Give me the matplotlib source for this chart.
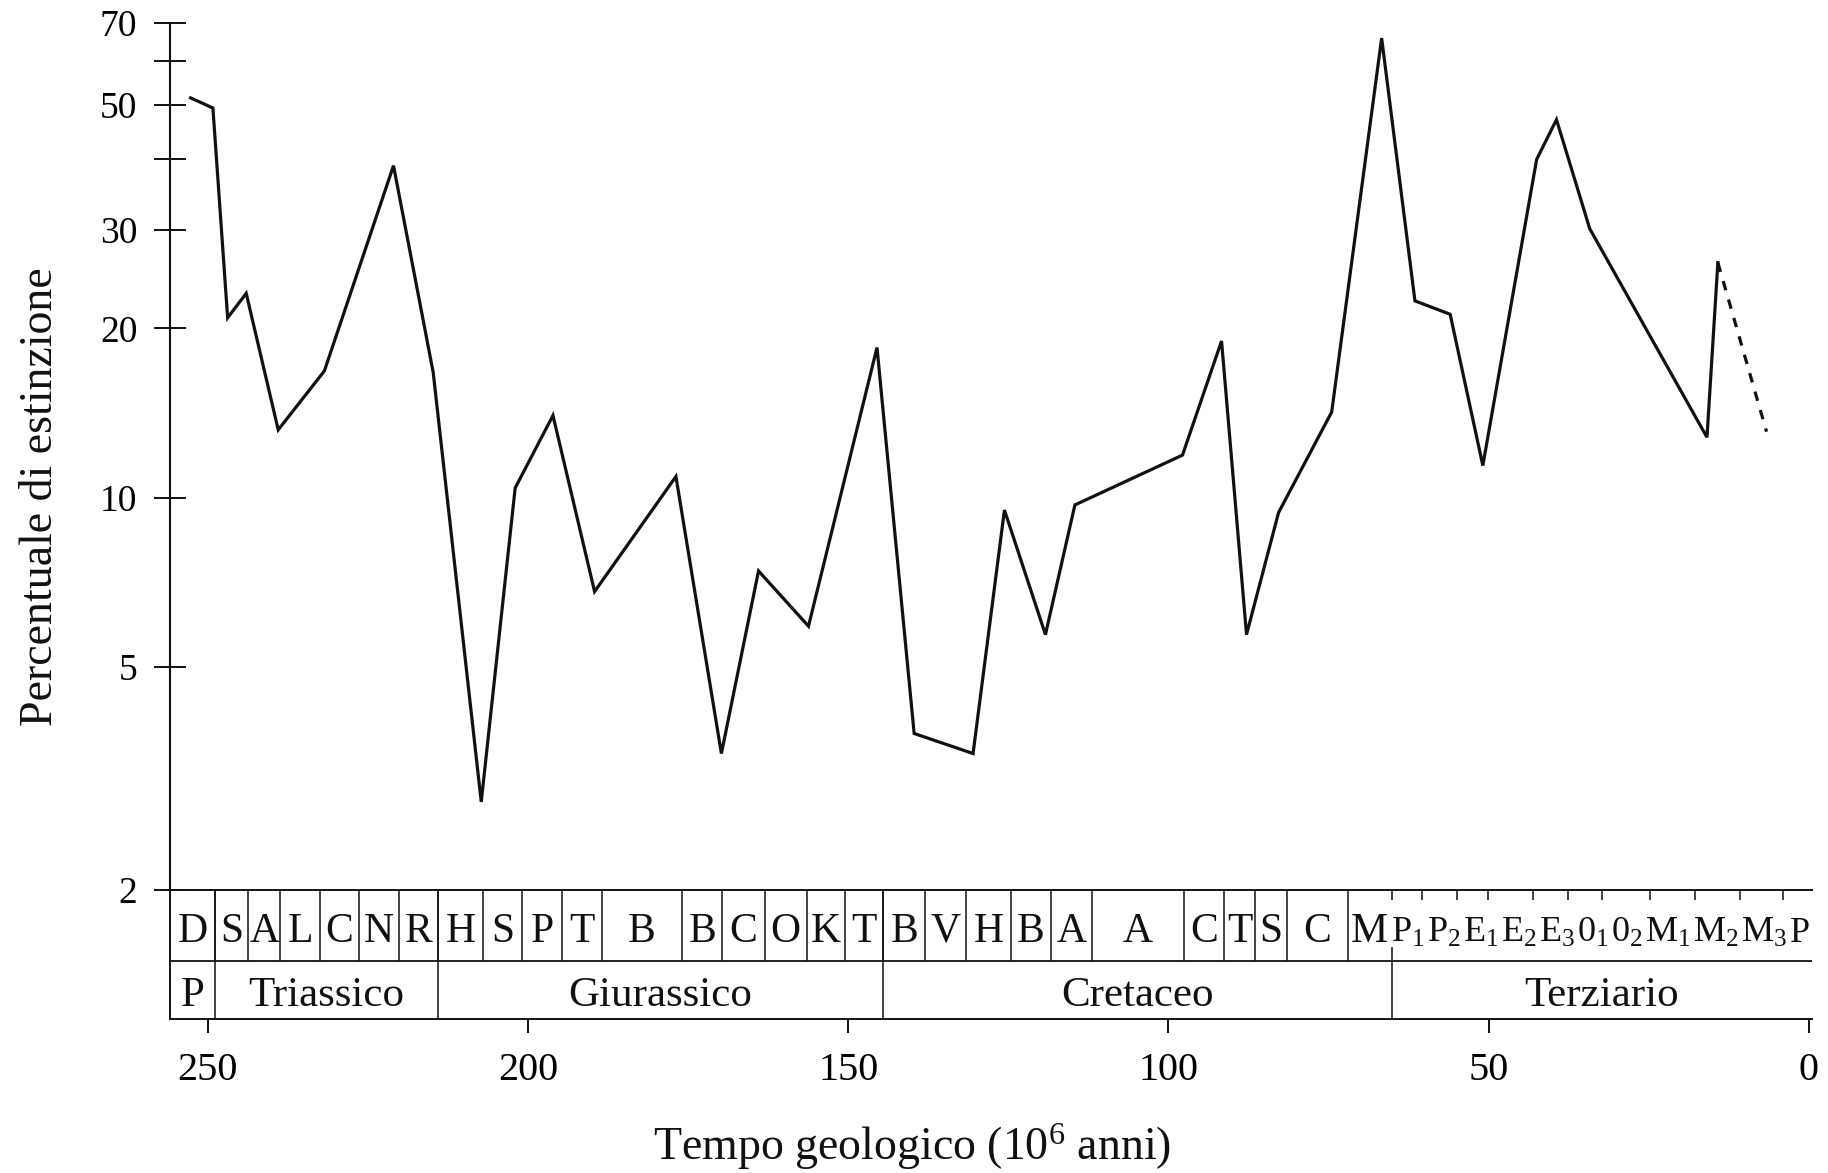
import matplotlib
matplotlib.use("Agg")
import matplotlib.pyplot as plt
from matplotlib.ticker import FixedLocator, NullFormatter, FixedFormatter

plt.rcParams['font.family'] = ['Liberation Serif', 'DejaVu Serif']
plt.rcParams['mathtext.fontset'] = 'custom'
plt.rcParams['mathtext.rm'] = 'Liberation Serif'
plt.rcParams['mathtext.it'] = 'Liberation Serif:italic'

# --- extinction record (age in Myr, percent extinction) ---
ages = [252.7, 249.2, 246.9, 244.0, 239.0, 231.8, 221.0, 214.8, 207.3, 202.0,
        196.1, 189.6, 176.9, 169.8, 164.0, 156.2, 145.5, 139.7, 130.5, 125.6,
        119.2, 114.6, 97.8, 91.7, 87.8, 82.8, 74.5, 66.7, 61.5, 56.0,
        50.9, 42.5, 39.4, 34.2, 15.9, 14.2]
pct = [51.5, 49.4, 20.9, 23.1, 13.2, 16.8, 39.0, 16.7, 2.87, 10.4,
       14.0, 6.8, 10.9, 3.5, 7.4, 5.9, 18.5, 3.8, 3.5, 9.5,
       5.7, 9.7, 11.9, 19.0, 5.7, 9.4, 14.2, 65.8, 22.4, 21.2,
       11.4, 40.0, 47.1, 30.1, 12.8, 26.2]
# uncertain final segment
ages_dash = [14.2, 6.6]
pct_dash = [26.2, 13.1]

# --- stages (Permian to Cretaceous), boundaries in Myr ---
stage_bounds = [255.9, 248.8, 243.7, 238.7, 232.5, 226.4, 220.2, 214.1, 207.0,
                200.9, 194.7, 188.5, 175.9, 169.7, 163.0, 156.5, 150.5, 144.5,
                138.0, 131.6, 124.6, 118.3, 111.9, 97.6, 91.3, 86.5, 81.5,
                72.0, 65.1]
stage_labels = ['D', 'S', 'A', 'L', 'C', 'N', 'R', 'H', 'S', 'P', 'T', 'B',
                'B', 'C', 'O', 'K', 'T', 'B', 'V', 'H', 'B', 'A', 'A', 'C',
                'T', 'S', 'C', 'M']

# --- Tertiary subdivisions ---
tert_ticks = [65.1, 60.4, 54.9, 50.1, 43.1, 37.6, 32.3, 24.8, 17.7, 10.8, 4.1]
tert_labels = [r'P$_1$', r'P$_2$', r'E$_1$', r'E$_2$', r'E$_3$', r'0$_1$',
               r'0$_2$', r'M$_1$', r'M$_2$', r'M$_3$', 'P']

# --- periods ---
era_bounds = [255.9, 248.8, 214.1, 144.5, 65.1, -0.5]
era_labels = ['P', 'Triassico', 'Giurassico', 'Cretaceo', 'Terziario']

y_major = [2, 5, 10, 20, 30, 50, 70]
y_minor = [40, 60]
x_ticks = [250, 200, 150, 100, 50, 0]

W, H = 1828, 1173
fig = plt.figure(figsize=(W / 100, H / 100), dpi=100)


def px_box(x0, y_top, x1, y_bot):
    return [x0 / W, 1 - y_bot / H, (x1 - x0) / W, (y_bot - y_top) / H]


INK = '#111111'
ax = fig.add_axes(px_box(170, 23, 1812, 890))
axb = fig.add_axes(px_box(170, 890, 1812, 1019), sharex=ax)

# main plot
ax.plot(ages, pct, color=INK, lw=2.3, solid_joinstyle='miter')
ax.plot(ages_dash, pct_dash, color=INK, lw=2.3, linestyle=(0, (3, 3)))
ax.set_yscale('log')
ax.set_ylim(2, 70)
ax.set_xlim(255.9, -0.5)
for s in ('top', 'right', 'bottom'):
    ax.spines[s].set_visible(False)
ax.spines['left'].set_linewidth(1.5)
ax.spines['left'].set_color(INK)
ax.yaxis.set_major_locator(FixedLocator(y_major))
ax.yaxis.set_major_formatter(FixedFormatter([str(v) for v in y_major]))
ax.yaxis.set_minor_locator(FixedLocator(y_minor))
ax.yaxis.set_minor_formatter(NullFormatter())
ax.tick_params(axis='y', which='both', direction='inout', length=23,
               width=1.4, color=INK, labelsize=27, pad=12)
ax.tick_params(axis='x', which='both', bottom=False, labelbottom=False)

# stratigraphic table
axb.set_ylim(0, 1)
axb.set_yticks([])
axb.spines['right'].set_visible(False)
for s in ('left', 'top', 'bottom'):
    axb.spines[s].set_linewidth(1.4)
    axb.spines[s].set_color(INK)
row_split = 0.45
axb.axhline(row_split, color=INK, lw=1.3)

axb.vlines(stage_bounds[1:-1], row_split, 1, color=INK, lw=1.1)
stage_texts = []
for i, lab in enumerate(stage_labels):
    c = (stage_bounds[i] + stage_bounds[i + 1]) / 2
    stage_texts.append(axb.text(c, 0.597, lab, ha='center', va='baseline',
                                fontsize=30, color=INK))

axb.vlines(tert_ticks, 0.92, 1, color=INK, lw=1.1)
tert_texts = [axb.text(0, 0.597, lab, ha='left', va='baseline', fontsize=26,
                       color=INK) for lab in tert_labels]

axb.vlines(era_bounds[1:4], 0, 1, color=INK, lw=1.1)
axb.vlines([era_bounds[4]], 0, 0.56, color=INK, lw=1.1)
for i, lab in enumerate(era_labels):
    c = (era_bounds[i] + era_bounds[i + 1]) / 2
    axb.text(c, 0.10, lab, ha='center', va='baseline', fontsize=31, color=INK)

axb.set_xticks(x_ticks)
axb.set_xticklabels([str(v) for v in x_ticks])
axb.tick_params(axis='x', direction='out', length=10, width=1.4, color=INK,
                labelsize=29, pad=14)

fig.text(912 / W, 1 - 1147 / H, 'Tempo geologico (10$^6$ anni)', ha='center',
         va='center', fontsize=33, color=INK)
fig.text(41 / W, 1 - 497 / H, 'Percentuale di estinzione', rotation=90,
         ha='center', va='center', fontsize=33, color=INK)

# pack the Tertiary labels side by side, from the end of the last
# Cretaceous stage label to the right end of the table
fig.canvas.draw()
renderer = fig.canvas.get_renderer()
inv = axb.transData.inverted()
x_start = stage_texts[-1].get_window_extent(renderer).x1 + 3
x_end = axb.transData.transform((era_bounds[-1], 0))[0]
widths = [t.get_window_extent(renderer).width for t in tert_texts]
gap = (x_end - x_start - sum(widths)) / len(widths)
cursor = x_start
for t, w in zip(tert_texts, widths):
    t.set_x(inv.transform((cursor, 0))[0])
    cursor += w + gap

fig.savefig('out.png', dpi=100, facecolor='white')
